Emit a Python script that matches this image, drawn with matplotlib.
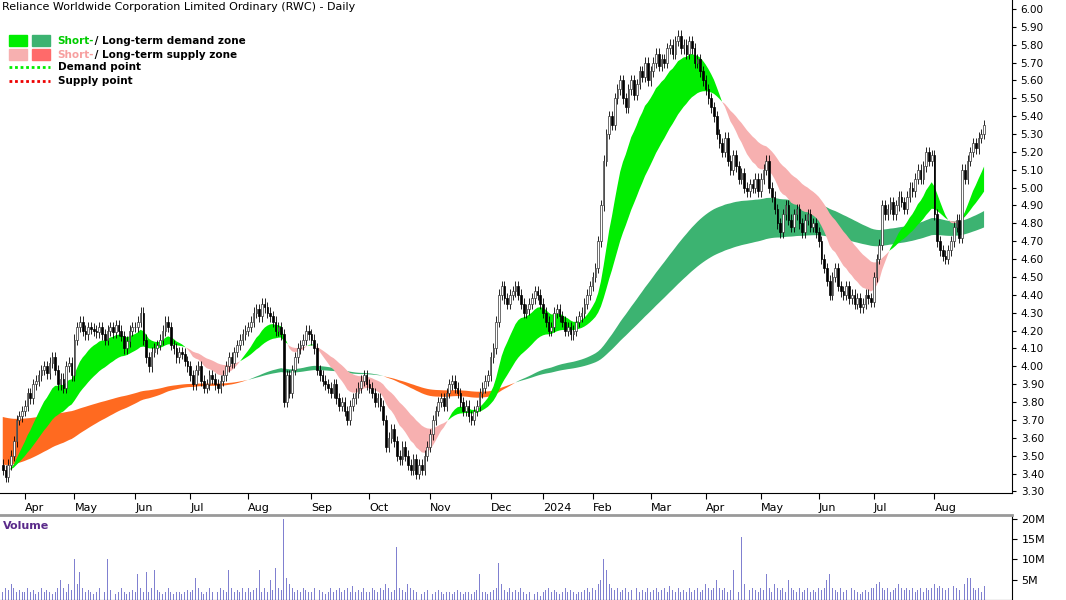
import numpy as np
import pandas as pd
import matplotlib
matplotlib.use("Agg")
import matplotlib.pyplot as plt
from matplotlib.patches import Rectangle

month_labels = ["", "Apr", "May", "Jun", "Jul", "Aug", "Sep", "Oct", "Nov", "Dec", "2024",
                "Feb", "Mar", "Apr", "May", "Jun", "Jul", "Aug"]
closes_by_month = [
    [3.42,3.38,3.45,3.50,3.58,3.70,3.72,3.75],
    [3.78,3.85,3.82,3.90,3.92,3.95,3.98,4.00,3.96,4.02,4.05,3.98,3.90,3.93,3.88,4.00,4.02,3.95],
    [4.15,4.22,4.25,4.20,4.18,4.22,4.21,4.20,4.19,4.22,4.18,4.15,4.20,4.22,4.19,4.23,4.20,4.17,4.10,4.14,4.20,4.22],
    [4.22,4.25,4.30,4.15,4.05,4.00,4.08,4.10,4.12,4.15,4.20,4.25,4.22,4.12,4.10,4.05,4.08,4.07,4.03,4.00],
    [3.95,3.90,3.98,4.00,3.92,3.88,3.90,3.95,3.93,3.90,3.88,3.92,3.95,4.00,4.05,4.02,4.08,4.12,4.15,4.18,4.20],
    [4.22,4.25,4.30,4.32,4.28,4.35,4.33,4.30,4.28,4.25,4.20,4.22,4.18,3.80,3.95,3.85,3.98,4.05,4.10,4.12,4.15,4.20,4.18],
    [4.15,4.10,3.98,3.95,3.92,3.90,3.88,3.85,3.90,3.82,3.78,3.80,3.75,3.70,3.78,3.82,3.85,3.88,3.92,3.95,3.90],
    [3.88,3.85,3.80,3.82,3.78,3.70,3.55,3.60,3.65,3.58,3.50,3.48,3.55,3.50,3.45,3.42,3.48,3.40,3.45,3.42,3.50,3.55],
    [3.62,3.70,3.75,3.80,3.82,3.78,3.85,3.90,3.92,3.88,3.85,3.80,3.75,3.78,3.72,3.70,3.75,3.78,3.85,3.88,3.92,3.95],
    [4.05,4.10,4.25,4.40,4.45,4.38,4.35,4.40,4.42,4.45,4.40,4.35,4.30,4.32,4.35,4.38,4.42,4.40,4.35],
    [4.30,4.25,4.20,4.22,4.30,4.32,4.28,4.25,4.20,4.22,4.18,4.20,4.25,4.28,4.30,4.35,4.40,4.45],
    [4.50,4.55,4.70,4.90,5.15,5.30,5.40,5.35,5.50,5.55,5.60,5.50,5.45,5.55,5.60,5.52,5.58,5.65,5.62,5.70,5.60],
    [5.65,5.70,5.75,5.68,5.72,5.70,5.78,5.80,5.75,5.82,5.85,5.78,5.80,5.75,5.82,5.78,5.70,5.72,5.65,5.60],
    [5.55,5.50,5.45,5.40,5.30,5.25,5.20,5.28,5.15,5.10,5.18,5.12,5.05,5.08,5.00,4.98,5.02,5.00,5.05,4.98],
    [5.05,5.10,5.15,5.00,4.95,4.88,4.80,4.75,4.85,4.90,4.82,4.78,4.85,4.88,4.80,4.75,4.82,4.85,4.78,4.80,4.75],
    [4.70,4.60,4.55,4.48,4.40,4.50,4.55,4.45,4.42,4.40,4.45,4.38,4.40,4.35,4.38,4.33,4.35,4.40,4.38,4.36],
    [4.50,4.60,4.68,4.90,4.85,4.88,4.92,4.85,4.90,4.95,4.92,4.88,4.95,5.00,4.98,5.05,5.10,5.05,5.12,5.20,5.15,5.18],
    [4.85,4.70,4.65,4.62,4.60,4.65,4.70,4.78,4.82,4.72,5.10,5.05,5.15,5.20,5.25,5.22,5.28,5.30,5.35],
]
volume_by_month = [
    [2,3,2.5,4,3,2,2.5,2],
    [2,3,2,2.5,1.5,2,3,2,2.5,2,1.5,2,3,5,3,2,4,2.5],
    [10,4,7,3,2,2.5,2,1.5,2,3,1.5,2,10,2.5,2,1.5,2,3,2,1.5,2,2.5],
    [2,6.5,3,2,7,2,3,7.5,2.5,2,1.5,2,3,2,1.5,2,2,1.5,2,2.5],
    [2,2.5,5.5,3,2,1.5,2,3,2,2.5,2,3,2.5,2,7.5,3,2,2.5,2,3,2],
    [3,2,2.5,3,7.5,2,3,2,5,2.5,8,3,2.5,20,5.5,4,3,2,2.5,2,3,2.5,2],
    [2,3,2,2.5,2,1.5,2,3,2,2.5,3,2,2.5,3,2,3.5,2,2.5,2,3,2],
    [2,3,2.5,2,3,2.5,4,3,2,2.5,13,3,2.5,2,4,3,2.5,2,2,1.5,2,2.5],
    [2,1.5,2,2.5,2,1.5,2,2,1.5,2,2.5,2,1.5,2,2,1.5,2,2.5,6.5,2,2,1.5],
    [2,2.5,3,9,4,2.5,2,3,2,2.5,2,3,2,1.5,2,2.5,1.5,2,1],
    [2,2.5,3,2,2.5,2,1.5,2,3,2,2.5,2,1.5,2,2,2.5,3,2],
    [3,2.5,4,5,10,7.5,4,3,2.5,3,2,2.5,3,2,2.5,2,3,2,2.5,2,3],
    [2,2.5,3,2,2.5,3,2,3.5,2.5,2,3,2,2.5,2,3,2,2.5,3,2,2.5],
    [4,3,2.5,3,5,3,2.5,3,2,2.5,7.5,3,2,15.5,4,3,2.5,3,2.5,2],
    [3,2.5,6.5,3,2,4,3,2.5,3,2,5,3,2.5,2,3,2,2.5,3,2,2.5,2],
    [3,2.5,3,5,6.5,3,2.5,2,3,2,2.5,2,3,2.5,2,1.5,2,2.5,2,3],
    [3,4,4.5,3,2.5,3,2,2.5,3,4,3,2.5,3,2.5,3,2,2.5,3,2,3,2.5,3],
    [4,3,3.5,3,2.5,3,2,3.5,3,2.5,5.5,4,5.5,5.5,3,2.5,3,2,3.5],
]
price_ticks = [round(3.3 + 0.1 * k, 2) for k in range(28)]
# band starting levels carried over from before the visible window
long_band_start = [3.45, 3.72]

closes, vols, month_starts = [], [], []
for cm, vm in zip(closes_by_month, volume_by_month):
    n = min(len(cm), len(vm))
    month_starts.append(len(closes))
    closes += cm[:n]
    vols += vm[:n]
closes = np.array(closes)
vols = np.array(vols)
N = len(closes)
x = np.arange(N)
opens = np.concatenate([[closes[0] + 0.03], closes[:-1]])
highs = np.maximum(opens, closes) + 0.03
lows = np.minimum(opens, closes) - 0.03


def ema(values, span, start):
    a = 2.0 / (span + 1)
    out = np.empty(len(values))
    prev = start
    for i, v in enumerate(values):
        prev = prev + a * (v - prev)
        out[i] = prev
    return out


s = pd.Series(closes)
sf = s.ewm(span=14, adjust=False).mean().values
ss = s.ewm(span=34, adjust=False).mean().values
lf = ema(closes, 115, long_band_start[0])
ls = ema(closes, 180, long_band_start[1])

fig = plt.figure(figsize=(10.66, 6.0), dpi=100)
ax = fig.add_axes([0.0, 0.178, 0.949, 0.822])
axv = fig.add_axes([0.0, 0.0, 0.949, 0.142])

ax.fill_between(x, lf, ls, where=lf >= ls, color="#3cb371", lw=0, interpolate=True)
ax.fill_between(x, lf, ls, where=lf < ls, color="#ff6a20", lw=0, interpolate=True)
ax.fill_between(x, sf, ss, where=sf >= ss, color="#00ee00", lw=0, interpolate=True)
ax.fill_between(x, sf, ss, where=sf < ss, color="#f7b0b0", lw=0, interpolate=True)

up = closes >= opens
ax.vlines(x, lows, highs, color="black", lw=0.6, zorder=3)
ax.bar(x[up], (closes - opens)[up], bottom=opens[up], width=0.6, color="white",
       edgecolor="#333333", lw=0.5, zorder=4)
ax.bar(x[~up], (opens - closes)[~up], bottom=closes[~up], width=0.6, color="black",
       edgecolor="black", lw=0.5, zorder=4)

ax.set_xlim(-1, N + 9)
ax.set_ylim(3.29, 6.05)
ax.yaxis.tick_right()
ax.set_yticks(price_ticks)
ax.set_yticklabels([f"{t:.2f}" for t in price_ticks], fontsize=7.5)
ax.set_xticks(month_starts[1:])
ax.set_xticklabels(month_labels[1:], fontsize=8, ha="left")
ax.tick_params(axis="x", length=4, pad=3)
ax.tick_params(axis="y", length=3)
for sp in ["top", "left"]:
    ax.spines[sp].set_visible(False)

axv.bar(x, vols, width=0.35, color="#8080d0")
axv.set_xlim(-1, N + 9)
axv.set_ylim(0, 21)
axv.yaxis.tick_right()
axv.set_yticks([5, 10, 15, 20])
axv.set_yticklabels(["5M", "10M", "15M", "20M"], fontsize=8)
axv.set_xticks([])
axv.spines["top"].set_color("#999999")
axv.spines["top"].set_linewidth(2)
axv.spines["left"].set_visible(False)
axv.text(0.003, 0.93, "Volume", transform=axv.transAxes, fontsize=8, color="#5a2a8a",
         va="top", fontweight="bold")

fig.text(0.002, 0.997, "Reliance Worldwide Corporation Limited Ordinary (RWC) - Daily",
         fontsize=8, va="top")
rows = [("#00ee00", "#3cb371", "Short-", "#00cc00", " / Long-term demand zone"),
        ("#f7b0b0", "#ff6a6a", "Short-", "#f7a0a0", " / Long-term supply zone")]
for i, (c1, c2, t1, tc, t2) in enumerate(rows):
    yy = 0.923 - i * 0.023
    fig.patches.append(Rectangle((0.008, yy), 0.017, 0.018, transform=fig.transFigure, color=c1))
    fig.patches.append(Rectangle((0.030, yy), 0.017, 0.018, transform=fig.transFigure, color=c2))
    fig.text(0.054, yy + 0.009, t1, fontsize=7.5, color=tc, va="center", fontweight="bold")
    fig.text(0.085, yy + 0.009, t2, fontsize=7.5, color="black", va="center", fontweight="bold")
for i, (c, lab) in enumerate([("#00ee00", "Demand point"), ("#ee0000", "Supply point")]):
    yy = 0.888 - i * 0.023
    fig.lines.append(plt.Line2D([0.008, 0.047], [yy, yy], transform=fig.transFigure,
                                color=c, lw=2, ls=(0, (1, 1))))
    fig.text(0.054, yy, lab, fontsize=7.5, va="center", fontweight="bold")

fig.savefig("out.png", dpi=100)
